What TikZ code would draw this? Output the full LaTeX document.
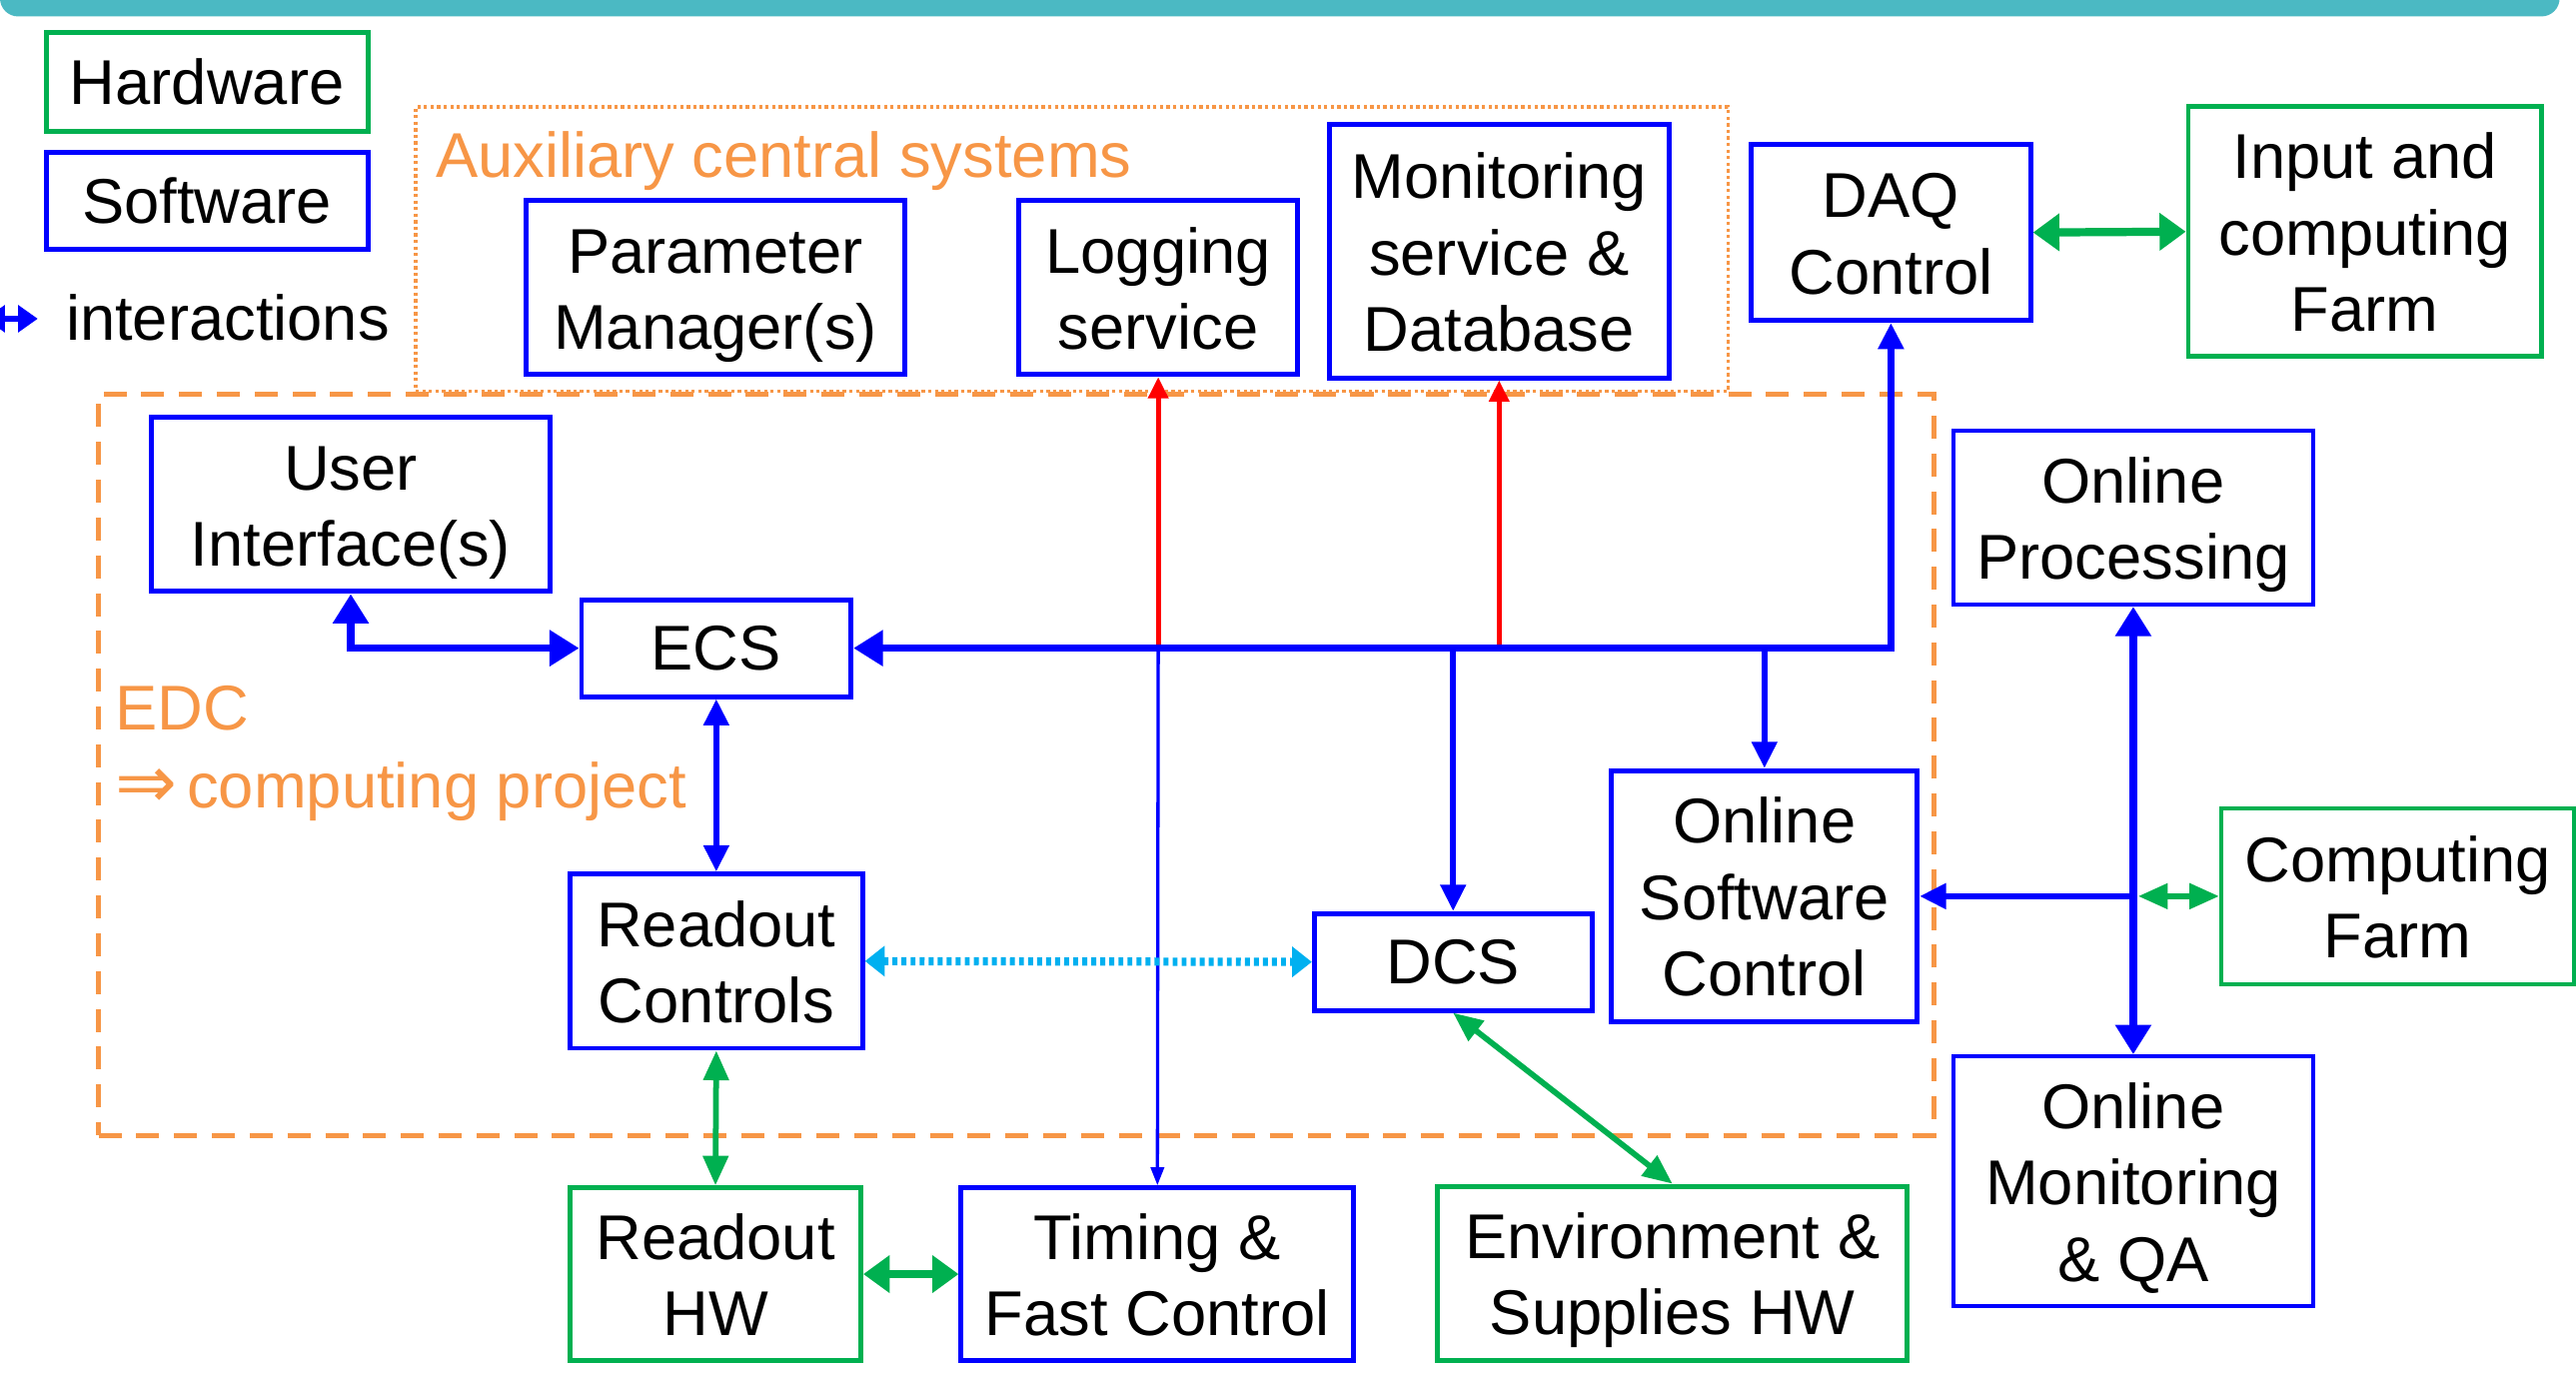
\documentclass[tikz,border=0pt]{standalone}
\usepackage{fontspec}
\setmainfont{Liberation Sans}
\newfontfamily\symfnt{DejaVu Sans}
\usetikzlibrary{arrows.meta}
\definecolor{hwgreen}{RGB}{0,176,80}
\definecolor{swblue}{RGB}{0,0,255}
\definecolor{edcorange}{RGB}{247,150,70}
\definecolor{barteal}{RGB}{75,185,195}
\definecolor{dotcyan}{RGB}{0,176,240}
\definecolor{linkred}{RGB}{255,0,0}
\newcommand{\tsp}{\rule{0pt}{37.6pt}}
\newcommand{\bsp}{\rule[-9pt]{0pt}{9pt}}
\tikzset{
  txt/.style={font=\fontsize{38.5}{46.5}\selectfont},
  box/.style={txt, draw, line width=3pt, align=center, inner sep=0pt, fill=white},
  sw/.style={box, draw=swblue},
  hw/.style={box, draw=hwgreen},
  orangelbl/.style={txt, text=edcorange, inner sep=0pt},
  grp/.style={draw=edcorange, inner sep=0pt},
  busboth/.style={draw=swblue, line width=4.5pt, line join=miter,
     {Triangle[length=18pt,width=21pt]}-{Triangle[length=18pt,width=21pt]}},
  busdaq/.style={draw=swblue, line width=4.5pt, line join=miter,
     {Triangle[length=18pt,width=21pt]}-{Triangle[length=16pt,width=15pt]}},
  linkone/.style={draw=swblue, line width=3.5pt, -{Triangle[length=16pt,width=15pt]}},
  linkboth/.style={draw=swblue, line width=3.5pt, {Triangle[length=16pt,width=15pt]}-{Triangle[length=16pt,width=15pt]}},
  thinlink/.style={draw=swblue, line width=2pt, -{Triangle[length=11pt,width=8pt]}},
  redlink/.style={draw=linkred, line width=3pt, -{Triangle[length=13pt,width=12pt]}},
  grnboth/.style={draw=hwgreen, line width=3.5pt, {Triangle[length=18pt,width=15pt]}-{Triangle[length=18pt,width=15pt]}},
  grnthick/.style={draw=hwgreen, line width=5pt, {Triangle[length=16pt,width=22pt]}-{Triangle[length=16pt,width=22pt]}},
  cyandots/.style={draw=dotcyan, line width=5pt, dash pattern=on 3pt off 2.5pt, {Triangle[length=12pt,width=18pt]}-{Triangle[length=12pt,width=18pt]}},
}
\begin{document}
\begin{tikzpicture}[x=1pt,y=-1pt]
\useasboundingbox (0,0) rectangle (1568,837);
\clip (0,0) rectangle (1568,837);
\fill[white] (0,0) rectangle (1568,837);
% top bar
\fill[barteal, rounded corners=11pt] (0,-40) rectangle (1558,10);

% groups
\node[grp, line width=2pt, dash pattern=on 2pt off 2pt, minimum width=799, minimum height=173] (aux) at (652.5,151.5) {};
\node[grp, line width=3pt, dash pattern=on 14pt off 9pt, minimum width=1117, minimum height=451] (edc) at (618.5,465.5) {};
\node[orangelbl, anchor=base west] (auxlbl) at (265,108) {Auxiliary central systems};
\node[orangelbl, anchor=base west] (edclbl) at (70,444) {EDC};
\node[orangelbl, anchor=base west] (edcproj) at (70,492) {{\symfnt\fontsize{45}{50}\selectfont ⇒}\hspace{6pt}computing project};

% legend
\node[hw, minimum width=196, minimum height=60] (lhw) at (126,50) {Hardware};
\node[sw, minimum width=196, minimum height=59] (lsw) at (126,122.5) {Software};
\node[txt, anchor=base west, inner sep=0pt] (lint) at (40,207) {interactions};
\coordinate (lintL) at (-9,194);
\coordinate (lintR) at (23,194);
\draw[draw=swblue, line width=3.5pt, {Triangle[length=12pt,width=16pt]}-{Triangle[length=12pt,width=16pt]}] (lintL) -- (lintR);

% boxes
\node[sw, minimum width=231, minimum height=106] (pm) at (435.5,175) {\tsp Parameter\\Manager(s)\bsp};
\node[sw, minimum width=170, minimum height=106] (log) at (705,175) {\tsp Logging\\service\bsp};
\node[sw, minimum width=207, minimum height=154] (mon) at (912.5,153) {\tsp Monitoring\\service \&\\Database\bsp};
\node[sw, minimum width=170, minimum height=107] (daq) at (1151,141.5) {\tsp DAQ\\Control\bsp};
\node[hw, minimum width=215, minimum height=152] (inf) at (1439.5,141) {\tsp Input and\\computing\\Farm\bsp};
\node[sw, minimum width=243, minimum height=106] (ui) at (213.5,307) {\tsp User\\Interface(s)\bsp};
\node[sw, minimum width=164, minimum height=59] (ecs) at (436,394.5) {ECS};
\node[sw, minimum width=219, minimum height=106, line width=2.5pt] (op) at (1298.5,315) {\tsp Online\\Processing\bsp};
\node[sw, minimum width=186, minimum height=153] (osc) at (1074,545.5) {\tsp Online\\Software\\Control\bsp};
\node[hw, minimum width=215, minimum height=107, line width=2.5pt] (cf) at (1459.5,545.5) {\tsp Computing\\Farm\bsp};
\node[sw, minimum width=178, minimum height=106] (rc) at (436,585) {\tsp Readout\\Controls\bsp};
\node[sw, minimum width=169, minimum height=59] (dcs) at (884.5,585.5) {DCS};
\node[sw, minimum width=219, minimum height=152, line width=2.5pt] (omqa) at (1298.5,719) {\tsp Online\\Monitoring\\\& QA\bsp};
\node[hw, minimum width=177, minimum height=105] (rhw) at (435.5,775.5) {\tsp Readout\\HW\bsp};
\node[sw, minimum width=239, minimum height=105] (tfc) at (704.5,775.5) {\tsp Timing \&\\Fast Control\bsp};
\node[hw, minimum width=286, minimum height=106] (env) at (1018,775) {\tsp Environment \&\\Supplies HW\bsp};

% junction points
\coordinate (jlog) at (log.south |- ecs.east);
\coordinate (jmon) at (mon.south |- ecs.east);
\coordinate (jdcs) at (dcs.north |- ecs.east);
\coordinate (josc) at (osc.north |- ecs.east);
\coordinate (jop) at (op.south |- osc.east);
\coordinate (jopg) at ([xshift=3pt]jop);

% connectors
\draw[redlink] (jlog) -- (log.south);
\draw[redlink] (jmon) -- (mon.south);
\draw[thinlink] (jlog) -- (tfc.north);
\draw[busdaq] (ecs.east) -| (daq.south);
\draw[busboth] (ui.south) |- (ecs.west);
\draw[linkboth] (ecs.south) -- (rc.north);
\draw[linkone] (jdcs) -- (dcs.north);
\draw[linkone] (josc) -- (osc.north);
\draw[cyandots] (rc.east) -- (dcs.west);
\draw[grnboth] (rc.south) -- (rhw.north);
\draw[grnthick] (rhw.east) -- (tfc.west);
\draw[grnboth] (dcs.south) -- (env.north);
\draw[grnthick] (daq.east) -- (inf.west);
\draw[busboth] (op.south) -- (omqa.north);
\draw[linkone] (jop) -- (osc.east);
\draw[grnboth] (jopg) -- (cf.west);
\end{tikzpicture}
\end{document}
